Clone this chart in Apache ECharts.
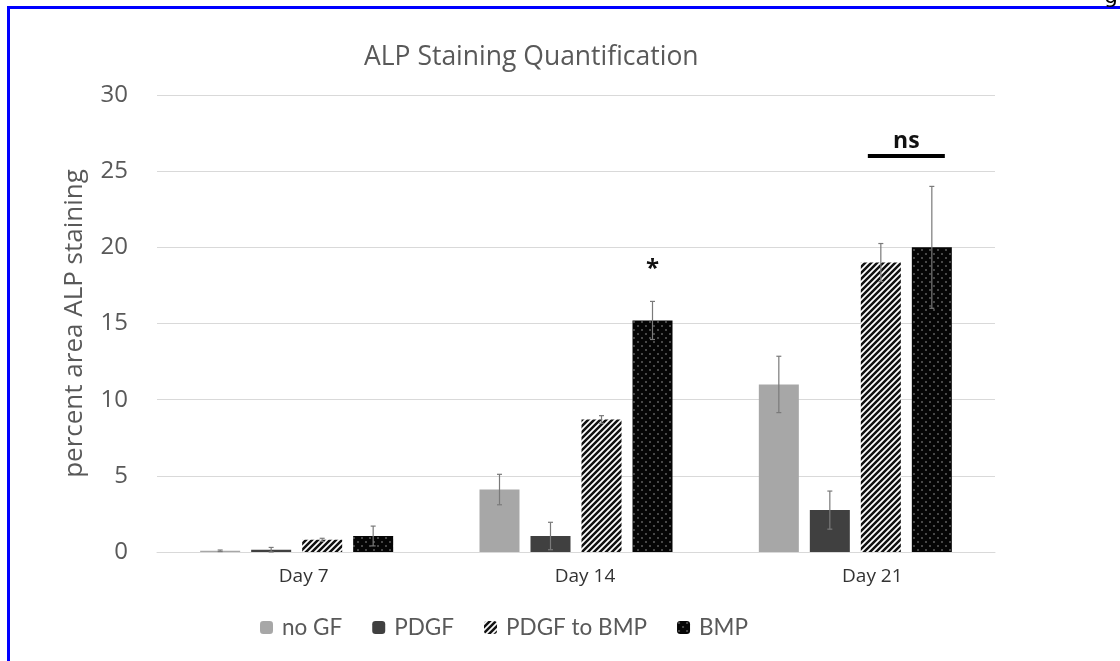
<!DOCTYPE html>
<html>
<head>
<meta charset="utf-8">
<script src="https://cdn.jsdelivr.net/npm/echarts@6/dist/echarts.min.js"></script>
<style>
html,body{margin:0;padding:0;background:#fff;overflow:hidden;}
#wrap{position:relative;width:1120px;height:661px;}
#chart{position:absolute;left:0;top:0;width:1120px;height:661px;}
#frame{position:absolute;left:7px;top:6px;width:1200px;height:700px;border-left:3px solid #0000ff;border-top:3px solid #0000ff;pointer-events:none;}
#corner{position:absolute;left:1104px;top:-17px;font:22px 'DejaVu Sans',sans-serif;color:#000;}
</style>
</head>
<body>
<div id="wrap">
<div id="chart"></div>
<div id="frame"></div>
<div id="corner">g</div>
</div>
<script>
// ---- data ----
const categories = ['Day 7', 'Day 14', 'Day 21'];
const seriesNames = ['no GF', 'PDGF', 'PDGF to BMP', 'BMP'];
const noGF      = [0.08, 4.1, 11.0];
const noGFErr   = [0.05, 1.0, 1.85];
const pdgf      = [0.15, 1.05, 2.75];
const pdgfErr   = [0.15, 0.9, 1.25];
const pdgfBmp   = [0.8, 8.7, 19.0];
const pdgfBmpErr= [0.1, 0.25, 1.25];
const bmp       = [1.05, 15.2, 20.0];
const bmpErr    = [0.65, 1.25, 4.0];
const yTicks = [0, 5, 10, 15, 20, 25, 30];
// significance annotations: [categoryIndex, fromSeries, toSeries, yValue, text]
const starMark = [1, 3, 3, 18.6, '*'];
const nsMark   = [2, 2, 3, 26.0, 'ns'];

// ---- styles ----
const BAR_W = 40, BAR_GAP = 11;
const LABEL_SHIFT = [14, 18, 34]; // category label horizontal nudges (px, as padding-left)
function hatchPattern(){
  const c = document.createElement('canvas'); c.width = 6; c.height = 6;
  const g = c.getContext('2d');
  g.fillStyle = '#fff'; g.fillRect(0,0,6,6);
  g.strokeStyle = '#111'; g.lineWidth = 2.5;
  g.beginPath();
  g.moveTo(-3,3); g.lineTo(3,-3);
  g.moveTo(0,6); g.lineTo(6,0);
  g.moveTo(3,9); g.lineTo(9,3);
  g.stroke();
  return c;
}
function dotPattern(){
  const c = document.createElement('canvas'); c.width = 8; c.height = 8;
  const g = c.getContext('2d');
  g.fillStyle = '#050505'; g.fillRect(0,0,8,8);
  g.fillStyle = '#474747';
  g.fillRect(1,1,2,2); g.fillRect(5,5,2,2);
  return c;
}
const colors = [
  '#a7a7a7',
  '#404040',
  {image: hatchPattern(), repeat: 'repeat'},
  {image: dotPattern(), repeat: 'repeat'}
];
const values = [noGF, pdgf, pdgfBmp, bmp];
const errs = [noGFErr, pdgfErr, pdgfBmpErr, bmpErr];

function offsetOf(si){ return (si - 1.5) * (BAR_W + BAR_GAP); }

const errData = [];
values.forEach((arr, si) => arr.forEach((v, ci) => errData.push([ci, v, errs[si][ci], si])));

const chart = echarts.init(document.getElementById('chart'));
const FONT = '"Open Sans", Lato, sans-serif';
const LFONT = 'Lato, "Open Sans", sans-serif';

const barSeries = seriesNames.map((n, i) => ({
  name: n, type: 'bar', data: values[i], barWidth: BAR_W, barGap: (BAR_GAP / BAR_W * 100) + '%',
  itemStyle: {color: colors[i]}, emphasis: {disabled: true}, z: 2
}));

const rich = {};
LABEL_SHIFT.forEach((s, i) => { rich['c' + i] = {fontFamily: FONT, fontSize: 19, color: '#333', padding: [0, 0, 0, s]}; });

chart.setOption({
  animation: false,
  title: {
    text: 'ALP Staining Quantification', left: 359, top: 39,
    textStyle: {fontFamily: FONT, fontSize: 26.5, fontWeight: 'normal', color: '#595959'}
  },
  grid: {left: 157, right: 125, top: 95, bottom: 109, containLabel: false},
  legend: {
    data: seriesNames, left: 255, top: 611, itemWidth: 13, itemHeight: 13, itemGap: 30,
    textStyle: {fontFamily: LFONT, fontSize: 22.5, color: '#595959', padding: [0,0,0,4]}
  },
  xAxis: {
    type: 'category', data: categories,
    axisLine: {lineStyle: {color: '#d9d9d9'}}, axisTick: {show: false},
    axisLabel: {margin: 15, formatter: (v, i) => '{c' + i + '|' + v + '}', rich: rich}
  },
  yAxis: {
    type: 'value', min: yTicks[0], max: yTicks[yTicks.length-1], interval: yTicks[1]-yTicks[0],
    axisLine: {show: false}, axisTick: {show: false},
    splitLine: {lineStyle: {color: '#d9d9d9'}},
    axisLabel: {fontFamily: FONT, fontSize: 24, color: '#595959', margin: 29},
    name: 'percent area ALP staining', nameLocation: 'middle', nameGap: 69, nameRotate: 90,
    nameTextStyle: {fontFamily: FONT, fontSize: 26, color: '#595959', padding: [0, 0, 0, 0]}
  },
  series: barSeries.concat([
    {
      type: 'custom', name: 'err', data: errData, z: 5, silent: true,
      renderItem: function(params, api){
        const ci = api.value(0), v = api.value(1), e = api.value(2), si = api.value(3);
        const top = api.coord([ci, v + e]);
        const bot = api.coord([ci, Math.max(0, v - e)]);
        const x = top[0] + offsetOf(si);
        const st = {stroke: '#7a7a7a', lineWidth: 1.2};
        return {type: 'group', children: [
          {type: 'line', shape: {x1: x, y1: top[1], x2: x, y2: bot[1]}, style: st},
          {type: 'line', shape: {x1: x-2.5, y1: top[1], x2: x+2.5, y2: top[1]}, style: st},
          {type: 'line', shape: {x1: x-2.5, y1: bot[1], x2: x+2.5, y2: bot[1]}, style: st}
        ]};
      }
    },
    {
      type: 'custom', name: 'sig', data: [starMark, nsMark], z: 6, silent: true,
      renderItem: function(params, api){
        const ci = api.value(0), s1 = api.value(1), s2 = api.value(2), y = api.value(3);
        const text = params.dataIndex === 0 ? starMark[4] : nsMark[4];
        const p = api.coord([ci, y]);
        const xa = p[0] + offsetOf(s1), xb = p[0] + offsetOf(s2);
        const kids = [];
        if (s1 !== s2) {
          kids.push({type: 'rect', shape: {x: xa - BAR_W/2 + 7, y: p[1] - 2, width: (xb - xa) + BAR_W - 14, height: 4}, style: {fill: '#000'}});
          kids.push({type: 'text', style: {text: text, x: (xa + xb)/2, y: p[1] - 3, align: 'center', verticalAlign: 'bottom', font: 'bold 23px ' + FONT, fill: '#111'}});
        } else {
          kids.push({type: 'text', style: {text: text, x: xa, y: p[1], align: 'center', verticalAlign: 'middle', font: 'bold 24px ' + FONT, fill: '#111'}});
        }
        return {type: 'group', children: kids};
      }
    }
  ])
});
</script>
</body>
</html>
